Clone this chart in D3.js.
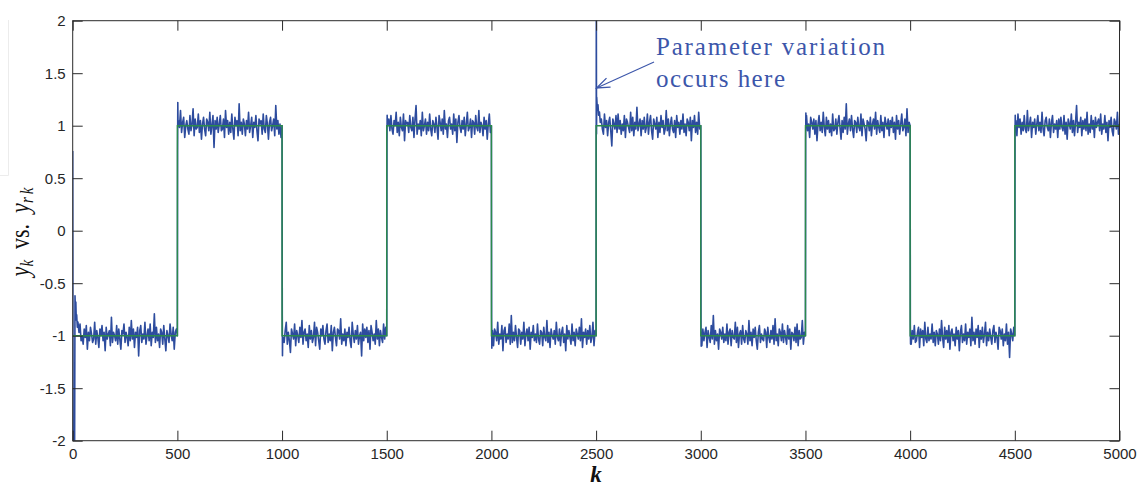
<!DOCTYPE html>
<html>
<head>
<meta charset="utf-8">
<script src="https://cdn.jsdelivr.net/npm/d3@7/dist/d3.min.js"></script>
<style>
  html, body { margin: 0; padding: 0; background: #fff; }
  svg { display: block; }
</style>
</head>
<body>
<svg id="chart" width="1141" height="487"></svg>
<script>
// ---------------- DATA ----------------
const xTicks = [0, 500, 1000, 1500, 2000, 2500, 3000, 3500, 4000, 4500, 5000];
const xTickLabels = ["0", "500", "1000", "1500", "2000", "2500", "3000", "3500", "4000", "4500", "5000"];
const yTicks = [-2, -1.5, -1, -0.5, 0, 0.5, 1, 1.5, 2];
const yTickLabels = ["-2", "-1.5", "-1", "-0.5", "0", "0.5", "1", "1.5", "2"];

// reference y_rk: one level per 500-sample half period
const refStarts = [0, 500, 1000, 1500, 2000, 2500, 3000, 3500, 4000, 4500];
const refLevels = [-1, 1, -1, 1, -1, 1, -1, 1, -1, 1];
const kMax = 5000;

// output y_k : deviation from y_rk, sampled every 5 steps (units of 0.016)
const noiseStep = 5;
const noiseUnit = 0.016;
const noise = [
3,-2,5,-4,1,-6,2,7,-3,0,-5,4,-1,6,-8,2,-3,5,1,-4,
-2,8,-5,3,-1,-7,4,0,6,-3,2,-9,5,-2,1,3,-6,11,-4,2,
0,-3,6,-5,4,-2,-8,3,1,7,-4,2,-1,-6,5,-3,9,-2,4,-7,
2,-1,5,-12,3,6,-4,1,-2,8,-5,0,4,-3,7,-6,2,-1,13,-4,
5,-3,1,-7,4,2,-5,6,-2,-9,3,0,-4,7,1,-3,5,-8,2,4,
-6,3,-1,9,-4,2,5,-7,0,3,-2,-5,6,-3,1,10,-6,4,-2,-1,
7,-4,3,-8,1,5,-2,-6,4,2,-3,8,-5,0,6,-13,3,-2,5,-4,
1,6,-3,-2,4,-7,9,-1,3,-5,2,-4,7,-2,-8,5,0,3,-6,13,
-3,2,-5,4,1,-6,3,-2,8,-4,0,5,-7,2,-1,6,-3,-9,4,1,
3,-5,7,-2,-4,6,1,-8,2,5,-3,0,4,-6,12,-2,3,-5,1,-7,
6,-1,-4,3,8,-5,2,-3,-10,4,1,-2,7,-6,3,0,-4,5,-1,9,
-5,2,4,-3,1,-7,6,-2,3,-4,-1,8,-6,5,2,-3,-8,4,0,6,
-2,-5,3,7,-4,1,-3,6,-9,2,5,-1,-6,4,3,-2,10,-5,1,-3,
4,-6,2,-1,5,-3,-7,8,1,-4,3,-2,6,-5,0,2,-12,7,-3,4,
-1,5,-4,3,-8,6,2,-3,1,-5,9,-2,4,-6,3,-1,-4,7,-2,5,
-7,1,4,-3,6,-2,-5,3,0,8,-4,2,-6,5,-1,-3,7,-9,3,1,
2,-4,6,-1,-3,5,-7,4,12,-5,1,-2,3,-6,8,-3,0,4,-5,2,
-3,7,-2,-6,3,1,-4,5,-1,-8,6,2,-3,4,-5,9,-2,1,-7,3,
5,-2,1,-5,7,-3,4,-10,2,6,-1,-4,3,-2,5,-6,1,8,-3,-1,
4,-7,3,2,-5,6,-1,-3,9,-4,2,0,-6,5,-2,3,-8,1,7,-4,
-1,3,-6,4,2,-3,8,-5,1,-2,6,-9,3,5,-4,1,-2,7,-5,12,
-4,2,-3,6,-1,-7,4,3,-5,2,-2,8,-6,1,4,-3,5,-8,2,-1,
6,-3,1,-4,7,-2,-5,3,2,-6,5,-1,-3,9,-4,2,-7,4,0,-2,
3,-5,8,-1,-3,4,-6,2,5,-4,1,-9,6,-2,3,-1,-5,7,-3,2,
-6,4,1,-2,5,-3,10,-7,2,-1,4,-5,3,-2,6,-4,-1,8,-6,3,
1,-3,5,-8,2,4,-2,-5,7,-1,3,-6,2,5,-3,-12,4,1,-2,6,
-4,7,-2,3,-5,1,-3,6,-7,4,2,-1,-4,8,-3,5,-6,2,-2,11,
-3,1,4,-6,3,-2,5,-4,-1,7,-5,2,6,-3,-8,4,1,-2,5,-7,
2,-4,6,-1,3,-5,-2,9,-3,4,-6,1,5,-2,-4,3,-7,6,-1,2,
-5,3,-2,7,-4,1,-6,4,2,-3,5,-9,3,-1,6,-4,2,-5,8,-2,
1,-6,4,-3,2,5,-7,3,-1,-4,6,-2,12,-5,3,-3,1,-8,4,2,
-2,5,-4,1,-3,7,-5,2,4,-6,3,-1,-2,8,-4,5,-7,1,3,-5,
6,-2,-4,3,1,-5,9,-3,2,-6,4,-1,5,-3,-8,2,6,-4,1,-2,
-3,4,2,-7,5,-1,-4,3,-2,6,-5,10,-3,1,-6,4,2,-3,7,-4,
3,-1,-5,6,-2,4,-8,2,1,-3,5,-4,7,-6,3,-2,-1,9,-5,2,
-4,6,-3,1,-7,5,2,-2,4,-5,3,-9,1,6,-3,2,-4,8,-1,-6,
5,-2,3,-4,1,-6,7,-3,-2,4,-5,2,6,-1,-8,3,-4,5,-2,13,
-5,1,4,-3,6,-2,-7,3,2,-4,5,-1,-3,7,-6,4,1,-2,-9,3,
2,-3,5,-6,1,4,-2,8,-5,3,-1,-4,6,-3,2,-7,5,1,-2,4,
-6,3,-1,5,-4,2,-8,6,-2,3,-5,1,7,-3,-1,4,-6,10,-4,2,
1,-5,3,-2,6,-4,-3,2,5,-7,4,-1,3,-6,8,-2,-4,5,-3,1,
-2,7,-4,2,-6,3,1,-5,4,-3,9,-1,-7,5,-2,3,-4,6,-8,2,
4,-3,1,-6,5,-2,3,-9,2,6,-4,1,-3,7,-5,2,-1,4,-6,11,
-3,2,-5,4,-1,6,-7,3,-2,5,-4,1,8,-6,2,-3,4,-1,-5,3,
6,-4,2,-1,-8,5,3,-2,4,-6,1,-3,7,-5,2,-13,4,1,-3,5,
-2,3,-6,7,-1,4,-5,2,-3,6,-2,-4,9,-3,1,5,-7,2,-1,4,
-5,1,6,-3,2,-4,8,-2,-6,3,5,-1,-3,4,-7,2,6,-4,1,-2,
3,-7,4,-2,5,-1,-3,6,-5,2,-8,4,1,-2,7,-4,3,-6,2,12,
-4,2,-1,5,-6,3,-2,4,-3,8,-5,1,-4,6,-2,3,-7,5,-1,2,
4,-3,7,-5,1,-2,6,-4,2,-9,3,-1,5,-3,-6,4,2,-2,8,-5,
1
];

// transient samples of y_k around the start and each switching instant: [k, y]
const startTransient = [[0, 0.76], [2, -2.5], [4, -2.6], [7, -2.4], [9, -2.2], [11, -0.62], [13, -0.75], [15, -0.68], [17, -0.85], [19, -0.80], [22, -0.92], [25, -0.87]];
const step500  = [[500, -1.0], [501, 0.75], [502, 1.22], [503, 1.04]];
const step1000 = [[1000, 1.0], [1001, -0.80], [1002, -1.19], [1003, -1.02]];
const step1500 = [[1500, -1.0], [1501, 0.82], [1502, 1.10], [1503, 1.0]];
const step2000 = [[2000, 1.0], [2001, -0.83], [2002, -1.12], [2003, -1.0]];
const step2500 = [[2500, -1.0], [2501, 2.3], [2502, 0.92], [2503, 1.27], [2506, 1.15], [2509, 1.20], [2512, 1.10], [2516, 1.13]];
const step3000 = [[3000, 1.0], [3001, -0.85], [3002, -1.10], [3003, -1.0]];
const step3500 = [[3500, -1.0], [3501, 0.86], [3502, 1.12], [3503, 1.0]];
const step4000 = [[4000, 1.0], [4001, -0.90], [4002, -1.08], [4003, -1.0]];
const step4500 = [[4500, -1.0], [4501, 0.90], [4502, 1.10], [4503, 1.0]];
const transients = [startTransient, step500, step1000, step1500, step2000, step2500, step3000, step3500, step4000, step4500];

const annotationLines = ["Parameter variation", "occurs here"];

// ---------------- LAYOUT ----------------
const W = 1141, H = 487;
const m = { left: 72.7, right: 1119.5, top: 20.7, bottom: 440.7 };
const axisColor = "#2b2b2b";
const blue = "#2d4c9e";
const green = "#2b8a4c";
const annoColor = "#3c56aa";

const svg = d3.select("#chart");
const x = d3.scaleLinear().domain([0, kMax]).range([m.left, m.right]);
const y = d3.scaleLinear().domain([-2, 2]).range([m.bottom, m.top]);

// faint frame artifact at left
svg.append("path").attr("d", `M8.5,20 V175.5 H0`).attr("fill", "none").attr("stroke", "#ececec").attr("stroke-width", 1);

svg.append("defs").append("clipPath").attr("id", "plotclip")
  .append("rect").attr("x", m.left).attr("y", m.top)
  .attr("width", m.right - m.left).attr("height", m.bottom - m.top);

// ---------------- SERIES ----------------
function refAt(k) {
  let idx = d3.bisectRight(refStarts, k) - 1;
  idx = Math.max(0, Math.min(refLevels.length - 1, idx));
  return refLevels[idx];
}
const ranges = transients.map(t => [d3.min(t, d => d[0]), d3.max(t, d => d[0])]);
let bluePts = [];
for (let i = 0; i * noiseStep <= kMax; i++) {
  const k = i * noiseStep;
  if (ranges.some(r => k >= r[0] && k <= r[1])) continue;
  bluePts.push([k, refAt(k) + (noise[i] || 0) * noiseUnit]);
}
transients.forEach(t => t.forEach(p => bluePts.push(p)));
bluePts.sort((a, b) => a[0] - b[0]);

const plot = svg.append("g").attr("clip-path", "url(#plotclip)");
plot.append("path")
  .datum(bluePts)
  .attr("fill", "none")
  .attr("stroke", blue)
  .attr("stroke-width", 1.6)
  .attr("stroke-linejoin", "round")
  .attr("d", d3.line().x(d => x(d[0])).y(d => y(d[1])));

const refPts = refStarts.map((k, i) => [k, refLevels[i]]);
refPts.push([kMax, refLevels[refLevels.length - 1]]);
plot.append("path")
  .datum(refPts)
  .attr("fill", "none")
  .attr("stroke", green)
  .attr("stroke-width", 1.4)
  .attr("d", d3.line().curve(d3.curveStepAfter).x(d => x(d[0])).y(d => y(d[1])));

// ---------------- AXES ----------------
const tickFont = "'Liberation Sans', Arial, Helvetica, sans-serif";
function styleAxis(g) {
  g.select(".domain").remove();
  g.selectAll(".tick line").attr("stroke", axisColor).attr("stroke-width", 1);
  g.selectAll(".tick text").attr("fill", "#262626").style("font-family", tickFont).style("font-size", "15px");
}
svg.append("g").attr("transform", `translate(0,${m.bottom})`)
  .call(d3.axisBottom(x).tickValues(xTicks).tickFormat((d, i) => xTickLabels[i]).tickSize(-10).tickPadding(8))
  .call(styleAxis);
svg.append("g").attr("transform", `translate(0,${m.top})`)
  .call(d3.axisTop(x).tickValues(xTicks).tickFormat("").tickSize(-10))
  .call(styleAxis);
svg.append("g").attr("transform", `translate(${m.left},0)`)
  .call(d3.axisLeft(y).tickValues(yTicks).tickFormat((d, i) => yTickLabels[i]).tickSize(-10).tickPadding(7))
  .call(styleAxis);
svg.append("g").attr("transform", `translate(${m.right},0)`)
  .call(d3.axisRight(y).tickValues(yTicks).tickFormat("").tickSize(-10))
  .call(styleAxis);

svg.append("rect")
  .attr("x", m.left).attr("y", m.top)
  .attr("width", m.right - m.left).attr("height", m.bottom - m.top)
  .attr("fill", "none").attr("stroke", axisColor).attr("stroke-width", 1);

// ---------------- LABELS ----------------
const serif = "'Liberation Serif', 'Times New Roman', serif";
svg.append("text")
  .attr("x", 596).attr("y", 482)
  .attr("text-anchor", "middle")
  .style("font-family", serif).style("font-style", "italic").style("font-size", "23px")
  .style("font-weight", "bold").attr("fill", "#111")
  .text("k");

const yl = svg.append("text")
  .attr("transform", `translate(29,232) rotate(-90) scale(1,1.25)`)
  .attr("text-anchor", "middle")
  .style("font-family", serif).style("font-size", "22px").attr("fill", "#111");
yl.append("tspan").style("font-style", "italic").text("y");
yl.append("tspan").style("font-style", "italic").style("font-size", "15px").attr("dy", 3).text("k");
yl.append("tspan").attr("dy", -3).text("\u00a0\u00a0vs.\u00a0\u00a0");
yl.append("tspan").style("font-style", "italic").text("y");
yl.append("tspan").style("font-style", "italic").style("font-size", "15px").attr("dy", 3).text("r\u2009k");

// annotation
const anno = svg.append("g");
annotationLines.forEach((t, i) => {
  anno.append("text")
    .attr("x", 656).attr("y", 55 + i * 32)
    .style("font-family", serif).style("font-size", "25px")
    .attr("fill", annoColor)
    .attr("textLength", i === 0 ? 229 : 129).attr("lengthAdjust", "spacing")
    .text(t);
});
// arrow: from text toward the spike at k=2500
const tip = [x(2500) + 0.5, 88];
const tail = [654, 62];
anno.append("line")
  .attr("x1", tail[0]).attr("y1", tail[1]).attr("x2", tip[0]).attr("y2", tip[1])
  .attr("stroke", annoColor).attr("stroke-width", 1.1);
const ang = Math.atan2(tail[1] - tip[1], tail[0] - tip[0]);
const hl = 14, hw = 0.36;
anno.append("path")
  .attr("d", `M${tip[0] + hl * Math.cos(ang + hw)},${tip[1] + hl * Math.sin(ang + hw)} L${tip[0]},${tip[1]} L${tip[0] + hl * Math.cos(ang - hw)},${tip[1] + hl * Math.sin(ang - hw)}`)
  .attr("fill", "none").attr("stroke", annoColor).attr("stroke-width", 1.3);
</script>
</body>
</html>
